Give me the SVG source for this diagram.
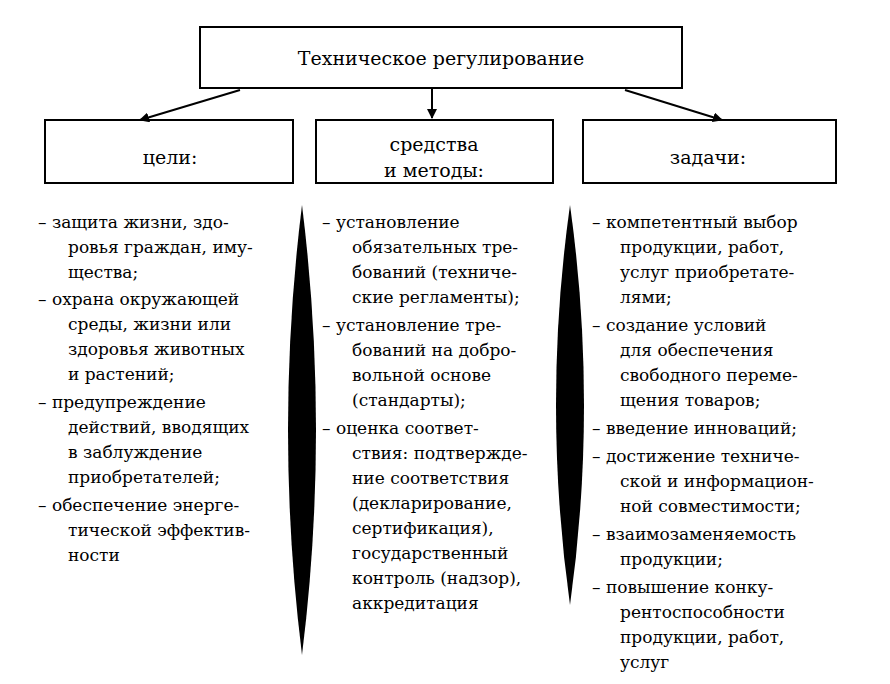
<svg xmlns="http://www.w3.org/2000/svg" width="890" height="684" viewBox="0 0 890 684">
<defs>
<style>
.b{fill:#fff;stroke:#000;stroke-width:2}
.t{font-family:"DejaVu Serif","Liberation Serif","Times New Roman",serif;font-size:17px;fill:#000}
.h{font-family:"DejaVu Serif","Liberation Serif","Times New Roman",serif;font-size:19px;fill:#000;text-anchor:middle}
.c{stroke:#000;stroke-width:2;fill:none}
</style>
<marker id="a" markerWidth="10" markerHeight="10" refX="9" refY="5" orient="auto" markerUnits="userSpaceOnUse"><path d="M0,0 L10,5 L0,10 z" fill="#000"/></marker>
</defs>
<rect width="890" height="684" fill="#fff"/>
<g id="top"><rect class="b" x="200" y="27" width="482" height="61"/><text class="h" x="441" y="65">Техническое регулирование</text></g>
<g id="goals"><rect class="b" x="45" y="120" width="248" height="63"/><text class="h" x="170" y="164">цели:</text></g>
<g id="means"><rect class="b" x="316" y="120" width="237" height="63"/><text class="h" x="434" y="151">средства</text><text class="h" x="434" y="177">и методы:</text></g>
<g id="tasks"><rect class="b" x="583" y="120" width="253" height="63"/><text class="h" x="708" y="164">задачи:</text></g>
<g id="connectors">
<path class="c" d="M240,90 L140,120" marker-end="url(#a)"/>
<path class="c" d="M432,88 L432,118" marker-end="url(#a)"/>
<path class="c" d="M625,90 L722,120" marker-end="url(#a)"/>
</g>
<g id="dividers" fill="#000">
<path d="M302,205 Q330,430 302,655 Q274,430 302,205 z"/>
<path d="M570,205 Q598,405 570,605 Q542,405 570,205 z"/>
</g>
<g id="goals-list" class="t">
<text x="38" y="228">– защита жизни, здо-</text>
<text x="68" y="253">ровья граждан, иму-</text>
<text x="68" y="278">щества;</text>
<text x="38" y="305">– охрана окружающей</text>
<text x="68" y="330">среды, жизни или</text>
<text x="68" y="355">здоровья животных</text>
<text x="68" y="380">и растений;</text>
<text x="38" y="408">– предупреждение</text>
<text x="68" y="433">действий, вводящих</text>
<text x="68" y="458">в заблуждение</text>
<text x="68" y="483">приобретателей;</text>
<text x="38" y="511">– обеспечение энерге-</text>
<text x="68" y="536">тической эффектив-</text>
<text x="68" y="561">ности</text>
</g>
<g id="means-list" class="t">
<text x="322" y="228">– установление</text>
<text x="352" y="253">обязательных тре-</text>
<text x="352" y="278">бований (техниче-</text>
<text x="352" y="303">ские регламенты);</text>
<text x="322" y="331">– установление тре-</text>
<text x="352" y="356">бований на добро-</text>
<text x="352" y="381">вольной основе</text>
<text x="352" y="406">(стандарты);</text>
<text x="322" y="434">– оценка соответ-</text>
<text x="352" y="459">ствия: подтвержде-</text>
<text x="352" y="484">ние соответствия</text>
<text x="352" y="509">(декларирование,</text>
<text x="352" y="534">сертификация),</text>
<text x="352" y="559">государственный</text>
<text x="352" y="584">контроль (надзор),</text>
<text x="352" y="609">аккредитация</text>
</g>
<g id="tasks-list" class="t">
<text x="592" y="228">– компетентный выбор</text>
<text x="620" y="253">продукции, работ,</text>
<text x="620" y="278">услуг приобретате-</text>
<text x="620" y="303">лями;</text>
<text x="592" y="331">– создание условий</text>
<text x="620" y="356">для обеспечения</text>
<text x="620" y="381">свободного переме-</text>
<text x="620" y="406">щения товаров;</text>
<text x="592" y="434">– введение инноваций;</text>
<text x="592" y="462">– достижение техниче-</text>
<text x="620" y="487">ской и информацион-</text>
<text x="620" y="512">ной совместимости;</text>
<text x="592" y="540">– взаимозаменяемость</text>
<text x="620" y="565">продукции;</text>
<text x="592" y="593">– повышение конку-</text>
<text x="620" y="618">рентоспособности</text>
<text x="620" y="643">продукции, работ,</text>
<text x="620" y="668">услуг</text>
</g>
</svg>
